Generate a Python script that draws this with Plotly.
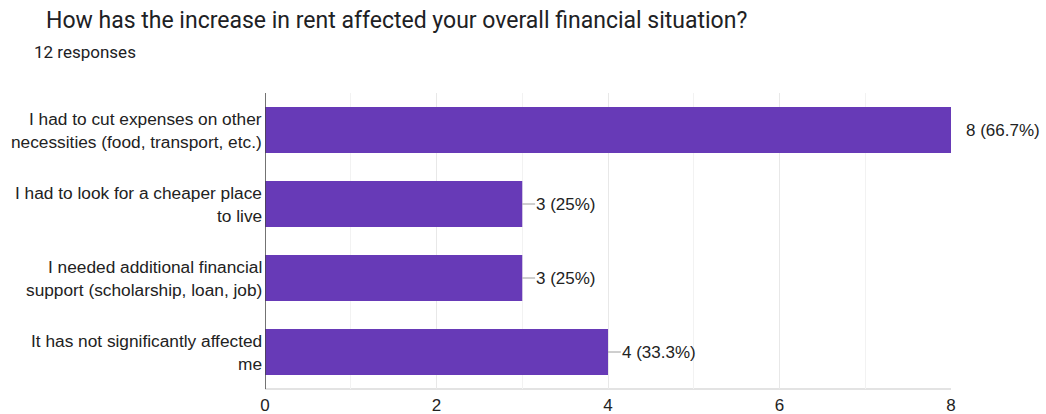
import plotly.graph_objects as go

# Survey answers (each label split into its two display lines) and counts
answers = [
    ["I had to cut expenses on other", "necessities (food, transport, etc.)"],
    ["I had to look for a cheaper place", "to live"],
    ["I needed additional financial", "support (scholarship, loan, job)"],
    ["It has not significantly affected", "me"],
]
counts = [8, 3, 3, 4]
total_responses = 12
x_ticks = [0, 2, 4, 6, 8]

cats = [" ".join(a) for a in answers]
label_font = dict(family="Liberation Sans, Arial, sans-serif", size=17.3, color="#222222")
value_font = dict(family="Liberation Sans, Arial, sans-serif", size=17, color="#222222")

fig = go.Figure(go.Bar(
    x=counts, y=cats, orientation="h",
    marker=dict(color="#673ab7", line=dict(width=0)),
    hoverinfo="skip",
))

annotations = []
shapes = []

# Category labels, two right-aligned lines beside each bar
for cat, lines in zip(cats, answers):
    for i, line in enumerate(lines):
        annotations.append(dict(
            xref="paper", yref="y", x=0, y=cat, text=line, showarrow=False,
            xanchor="right", yanchor="middle", xshift=-1,
            yshift=11.5 - 23 * i, font=label_font,
        ))

# Value labels with short leader lines
for cat, v in zip(cats, counts):
    pct = 100 * v / total_responses
    pct_txt = f"{pct:.1f}".rstrip("0").rstrip(".")
    txt = f"{v} ({pct_txt}%)"
    if v < max(x_ticks):
        shapes.append(dict(
            type="line", xref="x", yref="y", x0=v, x1=v + 0.15, y0=cat, y1=cat,
            line=dict(color="#9e9e9e", width=1), layer="above",
        ))
        annotations.append(dict(
            xref="x", yref="y", x=v + 0.15, y=cat, text=txt, showarrow=False,
            xanchor="left", yanchor="middle", xshift=-1, font=value_font,
        ))
    else:
        annotations.append(dict(
            xref="x", yref="y", x=v, y=cat, text=txt, showarrow=False,
            xanchor="left", yanchor="middle", xshift=13, font=value_font,
        ))

# Title and response count
annotations.append(dict(
    xref="paper", yref="paper", x=0, y=1, xanchor="left", yanchor="middle",
    text="How has the increase in rent affected your overall financial situation?",
    showarrow=False, xshift=-221, yshift=73,
    font=dict(family="Roboto, sans-serif", size=23, color="#202124"),
))
annotations.append(dict(
    xref="paper", yref="paper", x=0, y=1, xanchor="left", yanchor="middle",
    text=f"{total_responses} responses",
    showarrow=False, xshift=-233, yshift=41,
    font=dict(family="Roboto, sans-serif", size=17, color="#202124"),
))

# Left axis line and bottom border of the plotting area
shapes.append(dict(type="line", xref="x", yref="paper", x0=0, x1=0, y0=0, y1=1,
                   line=dict(color="#444444", width=1.5), layer="above"))
shapes.append(dict(type="line", xref="paper", yref="paper", x0=0, x1=1, y0=0, y1=0,
                   line=dict(color="#dadada", width=1.5), layer="below"))

fig.update_layout(
    width=1046, height=414,
    margin=dict(l=265, r=95, t=93, b=25),
    paper_bgcolor="white", plot_bgcolor="white",
    showlegend=False, bargap=0.38,
    xaxis=dict(
        range=[0, 8], tickvals=x_ticks, ticktext=[str(t) for t in x_ticks],
        showgrid=True, gridcolor="#e8e8e8", gridwidth=1,
        minor=dict(dtick=1, showgrid=True, gridcolor="#f2f2f2", gridwidth=1),
        zeroline=False, showline=False, ticks="", automargin=False,
        tickfont=dict(family="Liberation Sans, Arial, sans-serif", size=17, color="#222222"),
        ticklabelstandoff=4, fixedrange=True,
    ),
    yaxis=dict(
        categoryorder="array", categoryarray=cats[::-1],
        showticklabels=False, showgrid=False, zeroline=False, showline=False,
        ticks="", fixedrange=True, automargin=False,
    ),
    annotations=annotations, shapes=shapes,
)

fig.write_html("out.html")
